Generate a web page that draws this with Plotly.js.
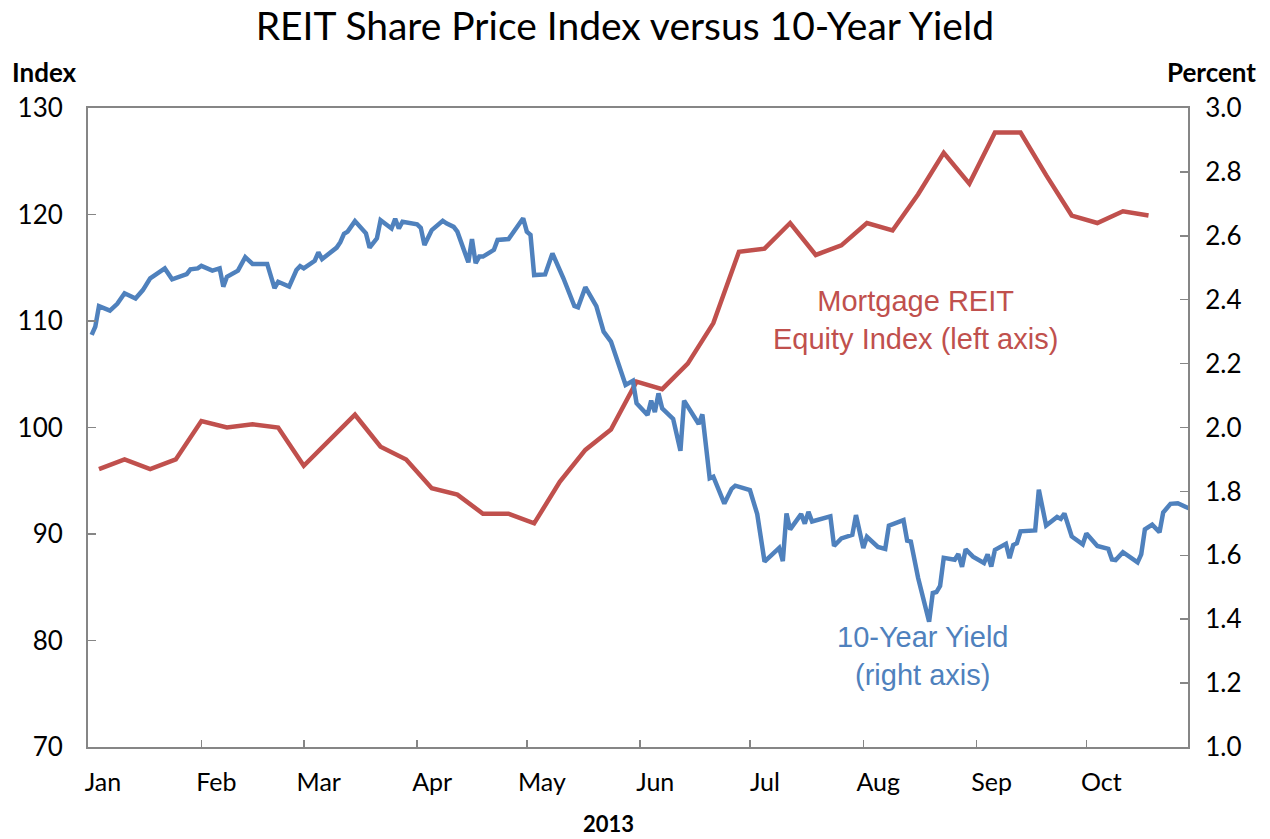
<!DOCTYPE html>
<html>
<head>
<meta charset="utf-8">
<script src="https://cdn.plot.ly/plotly-3.0.1.min.js"></script>
<style>html,body{margin:0;padding:0;background:#fff;}#chart{width:1270px;height:839px;}</style>
</head>
<body>
<div id="chart"></div>
<script>
// Mortgage REIT Equity Index (weekly, left axis)
var reitDates = ["2013-01-04","2013-01-11","2013-01-18","2013-01-25","2013-02-01","2013-02-08","2013-02-15","2013-02-22",
  "2013-03-01","2013-03-08","2013-03-15","2013-03-22","2013-03-29","2013-04-05","2013-04-12","2013-04-19","2013-04-26",
  "2013-05-03","2013-05-10","2013-05-17","2013-05-24","2013-05-31","2013-06-07","2013-06-14","2013-06-21","2013-06-28",
  "2013-07-05","2013-07-12","2013-07-19","2013-07-26","2013-08-02","2013-08-09","2013-08-16","2013-08-23","2013-08-30",
  "2013-09-06","2013-09-13","2013-09-20","2013-09-27","2013-10-04","2013-10-11","2013-10-18"];
var reitIndex = [96.1,97.0,96.1,97.0,100.6,100.0,100.3,100.0,
  96.4,98.8,101.2,98.2,97.0,94.3,93.7,91.9,91.9,
  91.0,94.9,97.9,99.8,104.3,103.6,106.0,109.8,116.5,
  116.8,119.2,116.2,117.1,119.2,118.5,121.9,125.8,122.9,
  127.7,127.7,123.7,119.9,119.2,120.3,119.9];

// 10-Year Treasury Yield (daily, right axis, percent)
var yieldDates = ["2013-01-02","2013-01-03","2013-01-04","2013-01-07","2013-01-09","2013-01-11","2013-01-14","2013-01-16",
  "2013-01-18","2013-01-22","2013-01-24","2013-01-28","2013-01-29","2013-01-31","2013-02-01","2013-02-04","2013-02-06",
  "2013-02-07","2013-02-08","2013-02-11","2013-02-13","2013-02-15","2013-02-19","2013-02-21","2013-02-22","2013-02-25",
  "2013-02-27","2013-02-28","2013-03-01","2013-03-04","2013-03-05","2013-03-06","2013-03-10","2013-03-11","2013-03-12",
  "2013-03-13","2013-03-15","2013-03-18","2013-03-19","2013-03-21","2013-03-22","2013-03-25","2013-03-26","2013-03-27",
  "2013-03-28","2013-04-01","2013-04-02","2013-04-03","2013-04-05","2013-04-08","2013-04-09","2013-04-11","2013-04-12",
  "2013-04-15","2013-04-16","2013-04-17","2013-04-18","2013-04-19","2013-04-22","2013-04-23","2013-04-26","2013-04-30",
  "2013-05-01","2013-05-02","2013-05-03","2013-05-06","2013-05-08","2013-05-11","2013-05-14","2013-05-15","2013-05-17",
  "2013-05-20","2013-05-22","2013-05-24","2013-05-28","2013-05-30","2013-05-31","2013-06-03","2013-06-04","2013-06-05",
  "2013-06-06","2013-06-07","2013-06-10","2013-06-12","2013-06-13","2013-06-17","2013-06-18","2013-06-20","2013-06-21",
  "2013-06-24","2013-06-26","2013-06-27","2013-07-01","2013-07-03","2013-07-05","2013-07-09","2013-07-10","2013-07-11",
  "2013-07-12","2013-07-15","2013-07-16","2013-07-17","2013-07-18","2013-07-23","2013-07-24","2013-07-26","2013-07-29",
  "2013-07-30","2013-08-01","2013-08-02","2013-08-05","2013-08-07","2013-08-08","2013-08-12","2013-08-13","2013-08-14",
  "2013-08-16","2013-08-19","2013-08-20","2013-08-21","2013-08-22","2013-08-23","2013-08-26","2013-08-27","2013-08-28",
  "2013-08-29","2013-08-31","2013-09-03","2013-09-04","2013-09-05","2013-09-06","2013-09-09","2013-09-10","2013-09-11",
  "2013-09-12","2013-09-13","2013-09-17","2013-09-18","2013-09-20","2013-09-23","2013-09-24","2013-09-25","2013-09-27",
  "2013-09-30","2013-10-01","2013-10-04","2013-10-07","2013-10-08","2013-10-09","2013-10-11","2013-10-15","2013-10-16",
  "2013-10-17","2013-10-19","2013-10-21","2013-10-22","2013-10-24","2013-10-26","2013-10-29"];
var yieldPct = [2.290,2.316,2.380,2.366,2.387,2.420,2.404,2.430,
  2.467,2.498,2.464,2.480,2.495,2.498,2.506,2.491,2.498,
  2.441,2.472,2.491,2.533,2.512,2.512,2.436,2.456,2.441,
  2.493,2.505,2.498,2.522,2.548,2.527,2.563,2.580,2.606,
  2.613,2.646,2.608,2.563,2.592,2.649,2.623,2.653,2.623,
  2.644,2.636,2.625,2.571,2.618,2.647,2.639,2.628,2.613,
  2.517,2.590,2.514,2.535,2.535,2.556,2.587,2.590,2.655,
  2.613,2.603,2.477,2.479,2.545,2.467,2.380,2.376,2.439,
  2.380,2.300,2.269,2.133,2.146,2.076,2.039,2.084,2.048,
  2.107,2.060,2.027,1.927,2.084,2.011,2.041,1.841,1.846,
  1.762,1.808,1.818,1.804,1.729,1.580,1.623,1.582,1.731,
  1.681,1.729,1.699,1.736,1.706,1.722,1.629,1.653,1.664,
  1.726,1.623,1.658,1.626,1.620,1.693,1.710,1.646,1.643,
  1.529,1.392,1.482,1.485,1.504,1.592,1.586,1.604,1.564,
  1.619,1.596,1.576,1.603,1.565,1.617,1.636,1.591,1.632,
  1.638,1.675,1.678,1.805,1.693,1.720,1.714,1.731,1.659,
  1.634,1.668,1.629,1.620,1.587,1.585,1.610,1.578,1.603,
  1.681,1.696,1.672,1.734,1.761,1.763,1.747];

var monthTicks = ["2013-01-01","2013-02-01","2013-03-01","2013-04-01","2013-05-01","2013-06-01","2013-07-01","2013-08-01","2013-09-01","2013-10-01"];
var monthLabels = ["Jan","Feb","Mar","Apr","May","Jun","Jul","Aug","Sep","Oct"];
var leftTicks = [70,80,90,100,110,120,130];
var rightTicks = [1.0,1.2,1.4,1.6,1.8,2.0,2.2,2.4,2.6,2.8,3.0];

var red = "#C0504D", blue = "#4F81BD", grey = "#868686";
var tickFont = {family: "Lato, 'Open Sans', sans-serif", size: 26, color: "#000"};

var traces = [
  {x: reitDates, y: reitIndex, type: "scatter", mode: "lines", yaxis: "y",
   line: {color: red, width: 4.5}, name: "Mortgage REIT Equity Index"},
  {x: yieldDates, y: yieldPct, type: "scatter", mode: "lines", yaxis: "y2",
   line: {color: blue, width: 4.5}, name: "10-Year Yield"}
];

var layout = {
  width: 1270, height: 839,
  margin: {l: 88, r: 82, t: 108, b: 92},
  paper_bgcolor: "#fff", plot_bgcolor: "#fff",
  showlegend: false,
  title: {text: "REIT Share Price Index versus 10-Year Yield", x: 0.492, xref: "container", xanchor: "center",
          y: 0.968, yref: "container", yanchor: "middle",
          font: {family: "Lato, 'Open Sans', sans-serif", size: 39, color: "#000"}},
  xaxis: {type: "date", range: ["2013-01-01", "2013-10-28 19:00"],
          tickmode: "array", tickvals: monthTicks, ticktext: monthLabels,
          ticks: "inside", ticklen: 7, tickwidth: 1.5, tickcolor: grey,
          showline: true, linecolor: grey, linewidth: 2, mirror: true,
          showgrid: false, zeroline: false, ticklabelshift: 15, ticklabelstandoff: 12,
          tickfont: {family: "Lato, 'Open Sans', sans-serif", size: 25, color: "#000"}},
  yaxis: {range: [70, 130], tickmode: "array", tickvals: leftTicks,
          ticks: "inside", ticklen: 8, tickwidth: 1.5, tickcolor: grey,
          showline: true, linecolor: grey, linewidth: 2,
          showgrid: false, zeroline: false, ticklabelstandoff: 18, tickfont: tickFont},
  yaxis2: {range: [1.0, 3.0], overlaying: "y", side: "right", tickmode: "array", tickvals: rightTicks,
          tickformat: ".1f",
          ticks: "inside", ticklen: 8, tickwidth: 1.5, tickcolor: grey,
          showline: true, linecolor: grey, linewidth: 2,
          showgrid: false, zeroline: false, ticklabelstandoff: 10, tickfont: tickFont},
  annotations: [
    {text: "<b>Index</b>", xref: "paper", yref: "paper", x: -0.04, y: 1.056, showarrow: false,
     xanchor: "center", yanchor: "middle", font: {family: "Lato, sans-serif", size: 26, color: "#000"}},
    {text: "<b>Percent</b>", xref: "paper", yref: "paper", x: 1.0218, y: 1.056, showarrow: false,
     xanchor: "center", yanchor: "middle", font: {family: "Lato, sans-serif", size: 26, color: "#000"}},
    {text: "<b>2013</b>", xref: "paper", yref: "paper", x: 0.4736, y: -0.12, showarrow: false,
     xanchor: "center", yanchor: "middle", font: {family: "Lato, sans-serif", size: 22, color: "#000"}},
    {text: "Mortgage REIT<br>Equity Index (left axis)", xref: "paper", yref: "paper", x: 0.7527, y: 0.668,
     showarrow: false, xanchor: "center", yanchor: "middle", align: "center",
     font: {family: "'Liberation Sans', Arial, sans-serif", size: 29, color: red}},
    {text: "10-Year Yield<br>(right axis)", xref: "paper", yref: "paper", x: 0.759, y: 0.1424,
     showarrow: false, xanchor: "center", yanchor: "middle", align: "center",
     font: {family: "'Liberation Sans', Arial, sans-serif", size: 29, color: blue}}
  ]
};

Plotly.newPlot("chart", traces, layout, {displayModeBar: false, staticPlot: true});
</script>
</body>
</html>
